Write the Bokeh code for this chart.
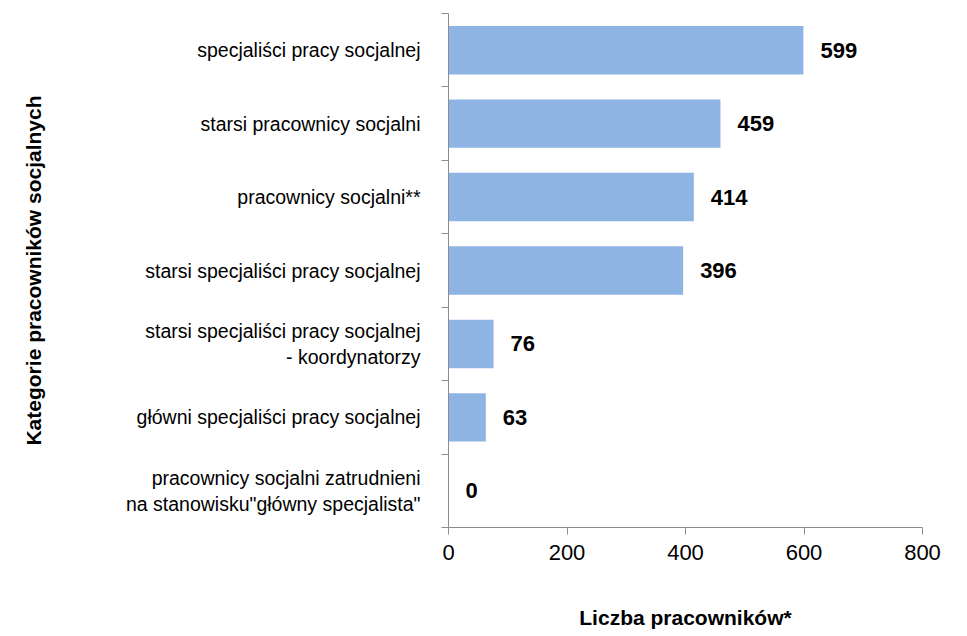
from bokeh.plotting import figure
from bokeh.models import Range1d, FixedTicker, ColumnDataSource, LabelSet
from bokeh.core.properties import value
from bokeh.embed import file_html
from bokeh.resources import INLINE

categories = [
    "specjaliści pracy socjalnej",
    "starsi pracownicy socjalni",
    "pracownicy socjalni**",
    "starsi specjaliści pracy socjalnej",
    "starsi specjaliści pracy socjalnej\n- koordynatorzy",
    "główni specjaliści pracy socjalnej",
    "pracownicy socjalni zatrudnieni\nna stanowisku\"główny specjalista\"",
]
values = [599, 459, 414, 396, 76, 63, 0]
x_ticks = [0, 200, 400, 600, 800]
x_title = "Liczba pracowników*"
y_title = "Kategorie pracowników socjalnych"

FONT = "Liberation Sans"
BAR = "#8EB4E3"
AX = "#8C8C8C"

n = len(categories)
idx = list(range(n))

p = figure(width=967, height=636, output_backend="svg", toolbar_location=None,
           x_range=Range1d(0, 800), y_range=Range1d(n - 0.5, -0.5),
           min_border_left=448, min_border_right=45, min_border_top=13,
           min_border_bottom=109)
p.outline_line_color = None
p.xgrid.visible = False
p.ygrid.visible = False
p.background_fill_color = "white"
p.border_fill_color = "white"

src = ColumnDataSource(dict(y=idx, v=values, t=[str(v) for v in values]))
p.hbar(y="y", right="v", left=0, height=0.66, source=src,
       fill_color=BAR, line_color=None)

lbls = LabelSet(x="v", y="y", text="t", source=src, x_offset=17,
                text_align="left", text_baseline="middle",
                text_font=value(FONT), text_font_style="bold",
                text_font_size="22px", text_color="black")
p.add_layout(lbls)

# x axis
xa = p.xaxis[0]
xa.ticker = FixedTicker(ticks=x_ticks, minor_ticks=[])
xa.axis_line_color = AX
xa.major_tick_line_color = AX
xa.major_tick_out = 7
xa.major_tick_in = 0
xa.minor_tick_line_color = None
xa.major_label_text_font = FONT
xa.major_label_text_font_size = "22px"
xa.major_label_text_color = "black"
xa.major_label_standoff = 10
xa.axis_label = x_title
xa.axis_label_text_font = FONT
xa.axis_label_text_font_style = "bold"
xa.axis_label_text_font_size = "21px"
xa.axis_label_text_color = "black"
xa.axis_label_standoff = 43

# y axis
ya = p.yaxis[0]
ya.ticker = FixedTicker(ticks=idx, minor_ticks=[i - 0.5 for i in range(n + 1)])
ya.major_label_overrides = {i: c for i, c in zip(idx, categories)}
ya.axis_line_color = AX
ya.major_tick_out = 0
ya.major_tick_in = 0
ya.major_tick_line_color = None
ya.minor_tick_line_color = AX
ya.minor_tick_out = 7
ya.minor_tick_in = 0
ya.major_label_text_font = FONT
ya.major_label_text_font_size = "19.5px"
ya.major_label_text_color = "black"
ya.major_label_standoff = 21
ya.axis_label = y_title
ya.axis_label_text_font = FONT
ya.axis_label_text_font_style = "bold"
ya.axis_label_text_font_size = "21px"
ya.axis_label_text_color = "black"
ya.axis_label_standoff = 78

open("out.html", "w").write(file_html(p, INLINE))
